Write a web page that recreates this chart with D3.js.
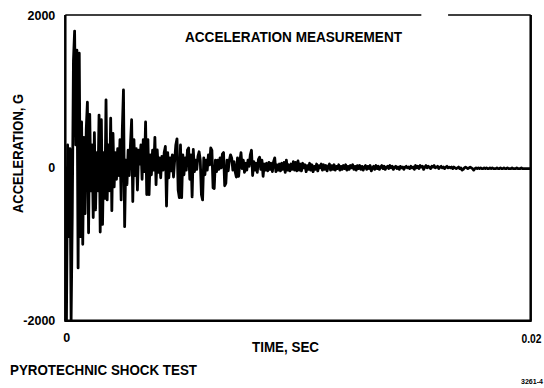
<!DOCTYPE html>
<html>
<head>
<meta charset="utf-8">
<script src="https://cdn.jsdelivr.net/npm/d3@7"></script>
<style>
  html, body { margin: 0; padding: 0; background: #fff; }
  svg { display: block; }
  text { font-family: "Liberation Sans", Arial, sans-serif; font-weight: bold; fill: #000; }
</style>
</head>
<body>
<svg id="chart" width="544" height="388"></svg>
<script>
// Accelerometer record: one sample every 0.05 ms over 0–20 ms, values in G.
const sampleStepMs = 0.05;
const accelG = [
  0, -2000, 300, -900, 250, -2000, -600, 1400, 1790, 300,
  1540, -1310, 1500, -900, 600, -1000, 400, -600, 500, 860,
  -850, 700, -300, 300, -650, 460, -550, 200, -300, 690,
  -840, 630, -740, 200, -400, 890, -420, 300, -300, 650,
  -560, 450, -250, 200, -150, 250, -100, 370, -420, 500,
  1020, -770, 100, -220, 230, -100, 300, 630, -440, 370,
  -100, 250, -290, 230, 50, 300, -150, 370, -50, 600,
  -350, 370, -350, 170, -90, 230, -30, 400, -220, 235,
  -60, 130, -130, 150, -30, 200, 280, -500, 200, -130,
  130, -40, 170, -120, 100, 300, 380, -290, -390, 300,
  -390, 170, -90, 130, -30, 235, 260, -150, 170, -380,
  240, -50, 100, -20, 150, 210, 100, -350, -420, 130,
  -90, 100, -30, 170, 40, 260, 230, -260, -270, 100,
  -50, 100, -20, 130, 0, 180, 200, -235, -200, 100,
  -40, 100, 170, 130, -30, 80, -50, -120, 130, -110,
  80, 200, -10, 100, -60, 60, -30, 100, 20, 170,
  230, -100, 80, -30, 60, -60, 110, 140, -20, 100,
  -110, 50, -30, 60, -40, 70, -20, 60, -50, 80,
  130, -50, 40, -30, 50, -40, 60, -20, 70, -60,
  100, -30, 40, -40, 50, -20, 80, -30, 70, -40,
  90, -30, 50, -40, 60, 0, 40, -50, 30, -20,
  60, -30, 40, -50, 20, -20, 50, -40, 30, 0,
  50, -30, 40, -20, 30, -40, 20, 50, -30, 30,
  -20, 40, -30, 20, -10, 40, -30, 20, -20, 30,
  -10, 40, -30, 20, -20, 30, 0, 40, -20, 20,
  -30, 30, -10, 30, -20, 20, -30, 10, 30, -20,
  20, -10, 30, -40, 0, 20, -20, 30, -10, 20,
  -20, 10, 30, -10, 20, -20, 10, 20, -10, 30,
  0, 20, -20, 10, 20, -10, 10, -20, 20, 0,
  10, -20, 10, 20, 0, 10, -10, 20, 0, 10,
  -20, 30, 0, 20, -10, 30, 10, 20, -20, 10,
  30, 0, 20, 10, -10, 20, 10, 30, 0, 10,
  20, -10, 10, 20, 0, 10, -10, 10, 20, 0,
  10, 0, 10, -10, 10, 0, -10, 0, 10, -10,
  0, -30, -20, 0, 10, 0, -10, 0, 10, 0,
  -10, -30, -10, 0, -10, 0, -10, 0, -10, -10,
  0, -10, 0, -10, -10, 0, -10, 0, -10, -10,
  -10, 0, -10, -10, 0, -10, -10, 0, -10, -10,
  0, -10, -10, -10, 0, -10, -10, -10, 0, -10,
  -10, -10, 0, -10, -10, -10, -10, -10, -10, -10,
  -10
];

const timeDomainSec = [0, 0.02];
const accelDomainG = [-2000, 2000];
const yTickValues = [-2000, 0, 2000];
const yTickLabels = ["-2000", "0", "2000"];
const xTickValues = [0, 0.02];
const xTickLabels = ["0", "0.02"];

const chartTitle = "ACCELERATION MEASUREMENT";
const xAxisTitle = "TIME, SEC";
const yAxisTitle = "ACCELERATION, G";
const footerTitle = "PYROTECHNIC SHOCK TEST";
const figureCode = "3261-4";

const svg = d3.select("#chart");
const plot = { left: 65.3, right: 530.7, top: 15, bottom: 320.7 };

const x = d3.scaleLinear().domain(timeDomainSec).range([plot.left, plot.right]);
const y = d3.scaleLinear().domain(accelDomainG).range([plot.bottom, plot.top]);

const samples = accelG.map((g, i) => ({ t: (i * sampleStepMs) / 1000, g }));

svg.append("clipPath").attr("id", "plot-clip")
  .append("rect")
  .attr("x", plot.left).attr("y", plot.top)
  .attr("width", plot.right - plot.left).attr("height", plot.bottom - plot.top);

// Trace
const line = d3.line().x(d => x(d.t)).y(d => y(d.g));
svg.append("path")
  .datum(samples)
  .attr("clip-path", "url(#plot-clip)")
  .attr("d", line)
  .attr("fill", "none")
  .attr("stroke", "#000")
  .attr("stroke-width", 2.8)
  .attr("stroke-linejoin", "round")
  .attr("stroke-linecap", "round");

// Frame: heavy left, bottom and right edges, lighter broken top edge
const frame = svg.append("g").attr("stroke", "#000").attr("fill", "none");
frame.append("line")
  .attr("x1", x(0)).attr("x2", x(0)).attr("y1", y(2000)).attr("y2", y(-2000))
  .attr("stroke-width", 2.5);
frame.append("line")
  .attr("x1", x(0) - 1).attr("x2", x(0.02) + 1).attr("y1", y(-2000)).attr("y2", y(-2000))
  .attr("stroke-width", 2.5);
frame.append("line")
  .attr("x1", x(0.02)).attr("x2", x(0.02)).attr("y1", y(2000)).attr("y2", y(-2000))
  .attr("stroke-width", 2.5);
frame.append("path")
  .attr("d", `M${x(0)},${y(2000)}H${x(0.0153)}M${x(0.01645)},${y(2000)}H${x(0.02)}`)
  .attr("stroke-width", 1.6);

// Axes (labels only, no tick marks)
const yAxis = d3.axisLeft(y)
  .tickValues(yTickValues)
  .tickSize(0)
  .tickPadding(10)
  .tickFormat((d, i) => yTickLabels[i]);
const gy = svg.append("g").attr("transform", `translate(${plot.left},0)`).call(yAxis);
gy.select(".domain").remove();
gy.selectAll("text")
  .style("font-family", '"Liberation Sans", Arial, sans-serif')
  .style("font-weight", "bold")
  .style("font-size", "12.5px")
  .attr("fill", "#000");

const xAxis = d3.axisBottom(x)
  .tickValues(xTickValues)
  .tickSize(0)
  .tickPadding(12)
  .tickFormat((d, i) => xTickLabels[i]);
const gx = svg.append("g").attr("transform", `translate(0,${plot.bottom})`).call(xAxis);
gx.select(".domain").remove();
gx.selectAll("text")
  .style("font-family", '"Liberation Sans", Arial, sans-serif')
  .style("font-weight", "bold")
  .style("font-size", "12.5px")
  .attr("fill", "#000")
  .attr("y", (d, i) => (i === 1 ? 14 : 12));
// Last time label ends just inside the right edge
gx.selectAll("text").filter((d, i) => i === 1)
  .attr("text-anchor", "end")
  .attr("x", 541 - x(0.02))
  .style("font-size", "12px")
  .attr("textLength", 20)
  .attr("lengthAdjust", "spacingAndGlyphs");
gx.selectAll("text").filter((d, i) => i === 0).attr("dx", 1);

// Titles
svg.append("text")
  .attr("x", 293.5).attr("y", 41.5)
  .attr("text-anchor", "middle")
  .attr("font-size", 14)
  .attr("textLength", 217).attr("lengthAdjust", "spacingAndGlyphs")
  .text(chartTitle);

svg.append("text")
  .attr("x", 252).attr("y", 352)
  .attr("font-size", 14)
  .attr("textLength", 67).attr("lengthAdjust", "spacingAndGlyphs")
  .text(xAxisTitle);

svg.append("text")
  .attr("transform", "translate(23,153.5) rotate(-90)")
  .attr("text-anchor", "middle")
  .attr("font-size", 14)
  .attr("textLength", 119).attr("lengthAdjust", "spacingAndGlyphs")
  .text(yAxisTitle);

svg.append("text")
  .attr("x", 10).attr("y", 375)
  .attr("font-size", 14)
  .attr("textLength", 187).attr("lengthAdjust", "spacingAndGlyphs")
  .text(footerTitle);

svg.append("text")
  .attr("x", 543).attr("y", 384)
  .attr("text-anchor", "end")
  .attr("font-size", 7.5)
  .attr("textLength", 22).attr("lengthAdjust", "spacingAndGlyphs")
  .text(figureCode);
</script>
</body>
</html>
